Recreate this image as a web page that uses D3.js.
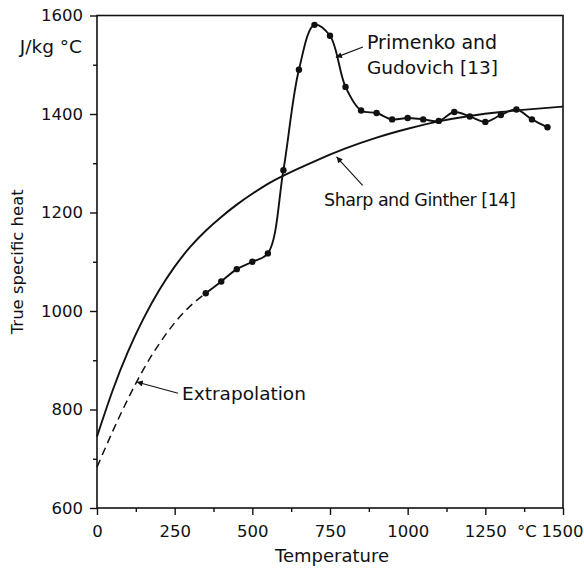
<!DOCTYPE html>
<html>
<head>
<meta charset="utf-8">
<script src="https://cdn.jsdelivr.net/npm/d3@7"></script>
<style>
  body { margin: 0; background: #fff; }
  svg text { font-family: "DejaVu Sans", sans-serif; fill: #111; }
</style>
</head>
<body>
<div id="main"></div>
<script>
const ctx = {
    w: 584,
    h: 570,
    left: 97,
    right: 563,
    top: 15.5,
    bottom: 508,
};

// Primenko and Gudovich [13] measured points
const primenkoT = [350, 400, 450, 500, 550, 600, 650, 700, 750, 800, 850, 900, 950, 1000,
                   1050, 1100, 1150, 1200, 1250, 1300, 1350, 1400, 1450];
const primenkoC = [1036, 1060, 1085, 1100, 1117, 1286, 1490, 1581, 1559, 1455, 1407, 1402, 1389, 1392,
                   1389, 1386, 1404, 1395, 1384, 1398, 1409, 1389, 1373];

// extrapolation (dashed) down to 0 degC
const extrapT = [0, 50, 100, 150, 200, 250, 300, 350];
const extrapC = [683, 755, 822, 882, 933, 976, 1010, 1036];

// Sharp and Ginther [14]
const sharpT = [0, 50, 100, 150, 200, 250, 300, 350, 400, 450, 500, 550, 600, 700, 800, 900,
                1000, 1100, 1200, 1300, 1400, 1500];
const sharpC = [745, 838, 918, 985, 1042, 1090, 1130, 1163, 1191, 1216, 1238, 1258, 1275, 1304, 1330, 1352,
                1370, 1385, 1396, 1404, 1410, 1415];

const xTicks = [0, 250, 500, 750, 1000, 1250, 1500];
const yTicks = [600, 800, 1000, 1200, 1400, 1600];

const zip = (a, b) => a.map((d, i) => [d, b[i]]);

function createViz(){
    const svg = d3.select("#main").append("svg")
                  .attr("width", ctx.w).attr("height", ctx.h);

    const x = d3.scaleLinear().domain([0, 1500]).range([ctx.left, ctx.right]);
    const y = d3.scaleLinear().domain([600, 1600]).range([ctx.bottom, ctx.top]);

    svg.append("defs").append("marker")
       .attr("id", "arrow")
       .attr("viewBox", "0 0 10 10")
       .attr("refX", 10).attr("refY", 5)
       .attr("markerWidth", 9).attr("markerHeight", 6)
       .attr("markerUnits", "userSpaceOnUse")
       .attr("orient", "auto")
       .append("path").attr("d", "M0,0 L10,5 L0,10 z").attr("fill", "#111");

    // axes with outward ticks
    const xAxis = svg.append("g").attr("transform", `translate(0,${ctx.bottom})`)
        .call(d3.axisBottom(x).tickValues(d3.range(0, 1501, 125)).tickSize(6)
                .tickFormat(d => xTicks.includes(d) ? d : ""));
    xAxis.selectAll(".tick line").attr("y2", d => xTicks.includes(d) ? 7 : 4);
    const yAxis = svg.append("g").attr("transform", `translate(${ctx.left},0)`)
        .call(d3.axisLeft(y).tickValues(d3.range(600, 1601, 100)).tickSize(6)
                .tickFormat(d => yTicks.includes(d) ? d : ""));
    yAxis.selectAll(".tick line").attr("x2", d => yTicks.includes(d) ? -7 : -4);

    [xAxis, yAxis].forEach(a => {
        a.select(".domain").remove();
        a.selectAll(".tick line").attr("stroke", "#111").attr("stroke-width", 1.4);
        a.selectAll("text").style("font-size", "16.5px").attr("fill", "#111");
    });
    xAxis.selectAll("text").attr("dy", null).attr("y", 29);
    xAxis.selectAll(".tick").filter(d => d === 1500).select("text")
         .attr("text-anchor", "end").attr("x", 583 - ctx.right);
    yAxis.selectAll("text").attr("x", -14);

    // frame
    svg.append("rect")
       .attr("x", ctx.left).attr("y", ctx.top)
       .attr("width", ctx.right - ctx.left).attr("height", ctx.bottom - ctx.top)
       .attr("fill", "none").attr("stroke", "#111").attr("stroke-width", 1.6);

    const line = d3.line().x(d => x(d[0])).y(d => y(d[1]));

    svg.append("path").datum(zip(sharpT, sharpC))
       .attr("d", line.curve(d3.curveNatural))
       .attr("fill", "none").attr("stroke", "#111").attr("stroke-width", 1.9);

    svg.append("path").datum(zip(extrapT, extrapC))
       .attr("d", line.curve(d3.curveNatural))
       .attr("fill", "none").attr("stroke", "#111").attr("stroke-width", 1.5)
       .attr("stroke-dasharray", "8,5");

    svg.append("path").datum(zip(primenkoT, primenkoC))
       .attr("d", line.curve(d3.curveCatmullRom.alpha(0.5)))
       .attr("fill", "none").attr("stroke", "#111").attr("stroke-width", 1.9);

    svg.append("g").selectAll("circle")
       .data(zip(primenkoT, primenkoC))
       .enter().append("circle")
       .attr("cx", d => x(d[0])).attr("cy", d => y(d[1]))
       .attr("r", 3.2).attr("fill", "#111");

    // annotations (data coords)
    const arrows = [
        {from: [856, 1536], to: [769, 1515]},
        {from: [855, 1255], to: [771, 1313]},
        {from: [261, 833], to: [128, 856]},
    ];
    svg.append("g").selectAll("line").data(arrows).enter().append("line")
       .attr("x1", d => x(d.from[0])).attr("y1", d => y(d.from[1]))
       .attr("x2", d => x(d.to[0])).attr("y2", d => y(d.to[1]))
       .attr("stroke", "#111").attr("stroke-width", 1.1)
       .attr("marker-end", "url(#arrow)");

    const labels = [
        {t: 869, c: 1531, size: 19, ls: 0, text: "Primenko and"},
        {t: 869, c: 1482, size: 18.5, ls: 0, text: "Gudovich [13]"},
        {t: 731, c: 1213, size: 17.5, ls: -0.5, text: "Sharp and Ginther [14]"},
        {t: 274, c: 819, size: 18.5, ls: 0, text: "Extrapolation"},
    ];
    svg.append("g").selectAll("text").data(labels).enter().append("text")
       .attr("x", d => x(d.t)).attr("y", d => y(d.c))
       .style("font-size", d => d.size + "px")
       .style("letter-spacing", d => d.ls + "px")
       .text(d => d.text);

    // units and titles
    svg.append("text").attr("x", 82).attr("y", 53).attr("text-anchor", "end")
       .style("font-size", "18.5px").text("J/kg °C");
    svg.append("text").attr("x", 527).attr("y", 537).attr("text-anchor", "middle")
       .style("font-size", "16.5px").text("°C");
    svg.append("text").attr("x", 332).attr("y", 562)
       .attr("text-anchor", "middle").style("font-size", "18px").text("Temperature");
    svg.append("text")
       .attr("transform", `translate(23,${(ctx.top + ctx.bottom) / 2}) rotate(-90)`)
       .attr("text-anchor", "middle").style("font-size", "16.5px").text("True specific heat");
}

createViz();
</script>
</body>
</html>
